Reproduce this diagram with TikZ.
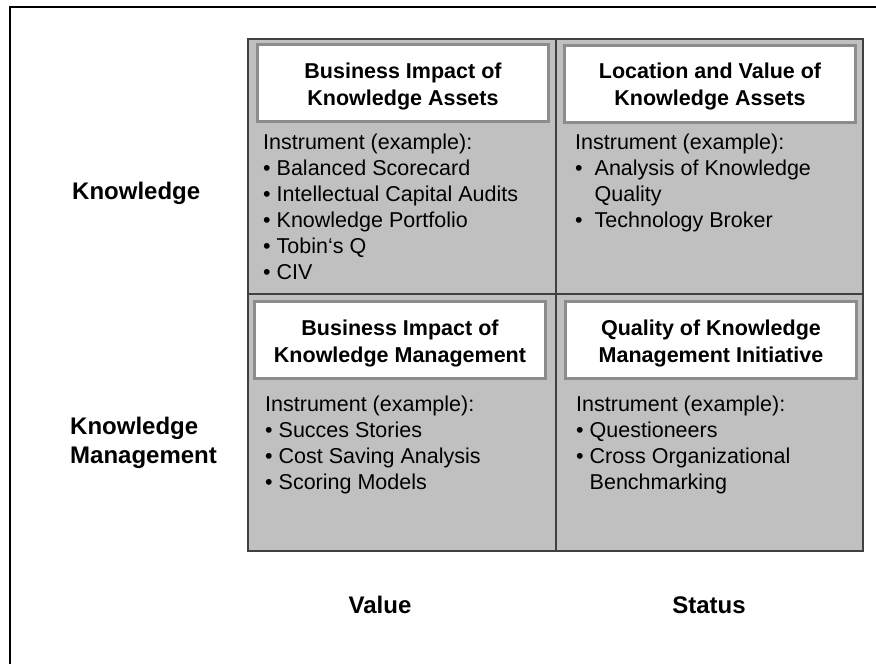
\documentclass[tikz,border=0pt]{standalone}
\usepackage{fontspec}
\setmainfont{Liberation Sans}
\usetikzlibrary{positioning}

\definecolor{cellgray}{RGB}{192,192,192}
\definecolor{gridline}{RGB}{64,64,64}
\definecolor{boxrim}{RGB}{140,140,140}

\tikzset{
  titlebox/.style={draw=boxrim, line width=3pt, fill=white, minimum width=291pt,
    minimum height=77pt, inner sep=0pt},
  titletext/.style={align=center, inner sep=0pt,
    font=\fontsize{21.5}{27}\selectfont\bfseries},
  itemtext/.style={anchor=base west, align=left, inner sep=0pt,
    font=\fontsize{21.5}{26}\selectfont},
  axislabel/.style={inner sep=0pt, font=\fontsize{24}{29}\selectfont\bfseries}
}

\begin{document}
\begin{tikzpicture}[x=1pt,y=-1pt]
    \useasboundingbox (0,0) rectangle (876,664);

    \coordinate (NW) at (248,39);
    \coordinate (SE) at (863,551);
    \coordinate (N) at (556,39);
    \coordinate (S) at (556,551);
    \coordinate (W) at (248,294);
    \coordinate (E) at (863,294);

    \coordinate (F1) at (10,664);
    \coordinate (F2) at (10,7);
    \coordinate (F3) at (876,7);

    % frame and grid
    \draw[line width=2.5pt] (F1)--(F2)--(F3);

    \fill[cellgray] (NW) rectangle (SE);
    \draw[gridline,line width=1.2pt] (NW) rectangle (SE);
    \draw[gridline,line width=1.2pt] (N)--(S);
    \draw[gridline,line width=1.2pt] (W)--(E);

    % headings of the four fields
    \node[titlebox] (bika) at (403,83) {};
    \node[titlebox] (lvka) at (710,83.5) {};
    \node[titlebox] (bikm) at (400,340) {};
    \node[titlebox] (qkmi) at (711,340) {};

    \node[titletext] (bikatxt) at ([yshift=-3pt]bika.center) {Business Impact of\\Knowledge Assets};
    \node[titletext] (lvkatxt) at ([yshift=-3pt]lvka.center) {Location and Value of\\Knowledge Assets};
    \node[titletext] (bikmtxt) at ([yshift=-3pt]bikm.center) {Business Impact of\\Knowledge Management};
    \node[titletext] (qkmitxt) at ([yshift=-3pt]qkmi.center) {Quality of Knowledge\\Management Initiative};

    % instruments (anchored at the last line)
    \node[itemtext] (bikalist) at (263,279) {Instrument (example):\\
      • Balanced Scorecard\\
      • Intellectual Capital Audits\\
      • Knowledge Portfolio\\
      • Tobin‘s Q\\
      • CIV};
    \node[itemtext] (lvkalist) at (575,227) {Instrument (example):\\
      •\ \ Analysis of Knowledge\\
      \phantom{•\ \ }Quality\\
      •\ \ Technology Broker};
    \node[itemtext] (bikmlist) at (265,489) {Instrument (example):\\
      • Succes Stories\\
      • Cost Saving Analysis\\
      • Scoring Models};
    \node[itemtext] (qkmilist) at (576,489) {Instrument (example):\\
      • Questioneers\\
      • Cross Organizational\\
      \phantom{• }Benchmarking};

    % axes
    \node[axislabel,anchor=base west] (know) at (72,199) {Knowledge};
    \node[axislabel,anchor=base west,align=left] (kman) at (70,463) {Knowledge\\Management};
    \node[axislabel,anchor=base] (value) at (380,613) {Value};
    \node[axislabel,anchor=base] (status) at (709,613) {Status};
\end{tikzpicture}
\end{document}
